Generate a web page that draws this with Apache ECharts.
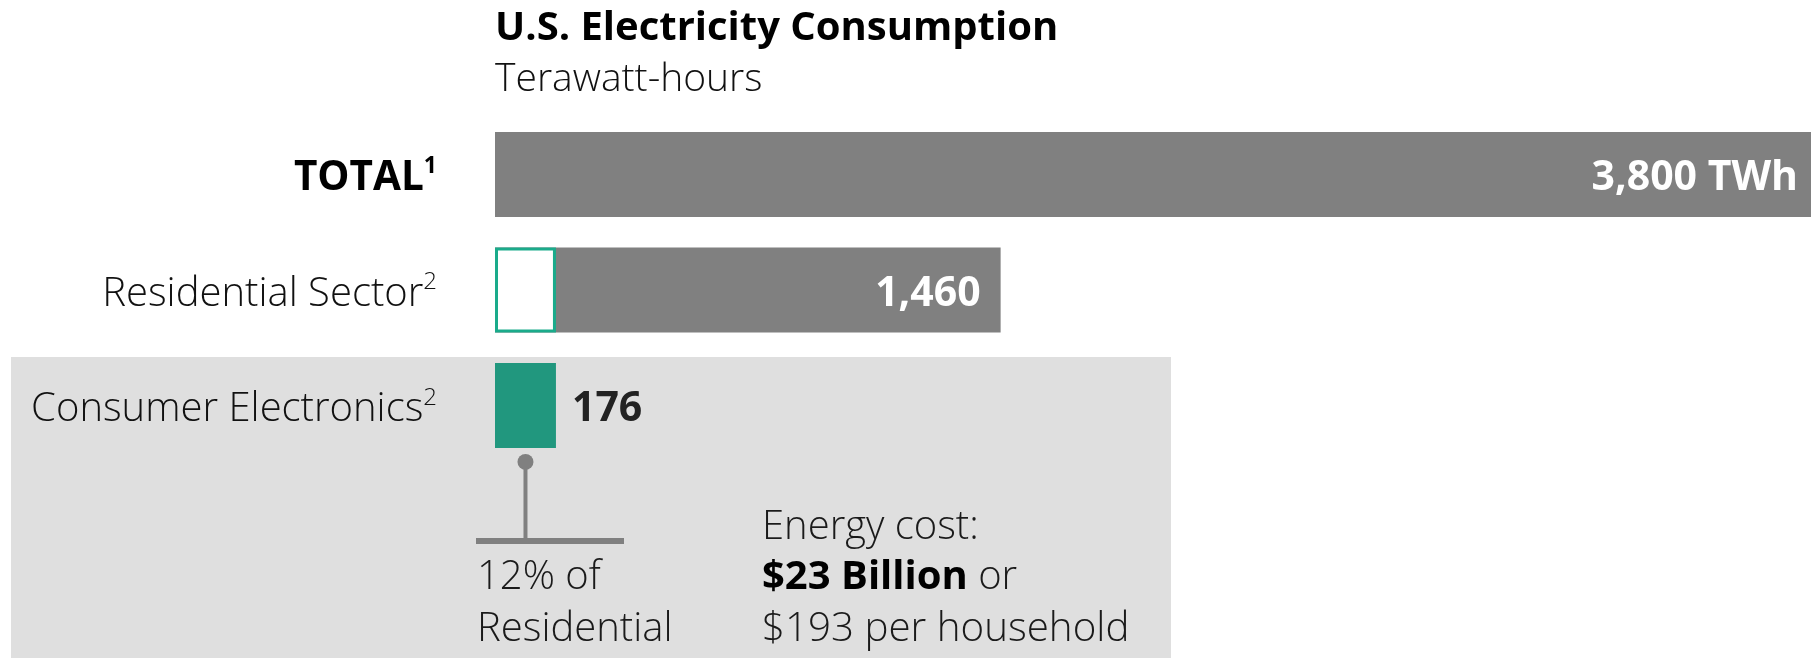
<!DOCTYPE html>
<html>
<head>
<meta charset="utf-8">
<script src="https://cdn.jsdelivr.net/npm/echarts@6/dist/echarts.min.js"></script>
<style>
  html, body { margin: 0; padding: 0; background: #ffffff; }
  #chart { width: 1811px; height: 658px; }
</style>
</head>
<body>
<div id="chart"></div>
<script>
// U.S. electricity consumption, terawatt-hours
const categories = ['TOTAL', 'Residential Sector', 'Consumer Electronics'];
const footnotes = ['1', '2', '2'];
const consumption = [3800, 1460, 176];
const valueLabels = ['3,800 TWh', '1,460', '176'];
// consumer electronics share drawn inside the residential bar
const electronicsInResidential = [null, 176, null];
const costTotal = '$23 Billion';
const costPerHousehold = '$193 per household';

const FONT = '"Open Sans", "Noto Sans", sans-serif';
const GREY = '#808080';
const TEAL = '#21977e';
const TEAL_EDGE = '#1aab8b';
const BAR_H = 85;

const chart = echarts.init(document.getElementById('chart'), null, { renderer: 'canvas' });

const mainData = consumption.map((v, i) => {
  const isElectronics = i === 2;
  return {
    value: v,
    itemStyle: { color: isElectronics ? TEAL : GREY },
    label: {
      show: true,
      formatter: valueLabels[i],
      position: isElectronics ? 'right' : 'insideRight',
      distance: isElectronics ? 16 : (i === 0 ? 13 : 20),
      offset: [0, 4],
      color: isElectronics ? '#222222' : '#ffffff',
      fontFamily: FONT,
      fontWeight: 'bold',
      fontSize: 41
    }
  };
});

const option = {
  animation: false,
  backgroundColor: '#ffffff',
  grid: { left: 495, right: 0, top: 116.7, height: 346.5, containLabel: false },
  xAxis: { type: 'value', min: 0, max: consumption[0], show: false },
  yAxis: {
    type: 'category',
    data: categories,
    inverse: true,
    axisLine: { show: false },
    axisTick: { show: false },
    splitLine: { show: false },
    axisLabel: {
      margin: 58,
      padding: [9, 0, 0, 0],
      formatter: (value, idx) => idx === 0
        ? `{bmain|${value}}{bsup|${footnotes[idx]}}`
        : `{main|${value}}{sup|${footnotes[idx]}}`,
      rich: {
        bmain: { fontFamily: FONT, fontWeight: 'bold', fontSize: 40.5, color: '#000', lineHeight: 48 },
        bsup: { fontFamily: FONT, fontWeight: 'bold', fontSize: 23, color: '#000', verticalAlign: 'top', lineHeight: 25 },
        main: { fontFamily: FONT, fontWeight: 300, fontSize: 40, color: '#111', lineHeight: 48 },
        sup: { fontFamily: FONT, fontWeight: 300, fontSize: 24, color: '#111', verticalAlign: 'top', lineHeight: 25 }
      }
    }
  },
  series: [
    {
      name: 'Consumption',
      type: 'bar',
      barWidth: BAR_H,
      barGap: '-100%',
      data: mainData
    },
    {
      name: 'Consumer electronics share',
      type: 'bar',
      barWidth: BAR_H,
      barGap: '-100%',
      z: 3,
      data: electronicsInResidential,
      itemStyle: { color: '#ffffff', borderColor: TEAL_EDGE, borderWidth: 3 },
      label: { show: false }
    }
  ]
};

chart.setOption(option);

// Annotation anchored to the consumer electronics bar
const eIdx = 2;
const barLeft = chart.convertToPixel({ seriesIndex: 0 }, [0, categories[eIdx]]);
const barRight = chart.convertToPixel({ seriesIndex: 0 }, [consumption[eIdx], categories[eIdx]]);
const cx = (barLeft[0] + barRight[0]) / 2;
const barBottom = barLeft[1] + BAR_H / 2;
const pinY = barBottom + 14;
const baseY = barBottom + 93;
const shareOfResidential = Math.round(consumption[2] / consumption[1] * 100);

const lightText = (text, x, y, size) => ({
  type: 'text', x, y,
  style: { text, fill: '#1a1a1a', font: `300 ${size}px ${FONT}`, verticalAlign: 'middle', align: 'left' }
});

chart.setOption({
  graphic: [
    { type: 'rect', z: -10, zlevel: 0, silent: true,
      shape: { x: 11, y: 357, width: 1160, height: 301 },
      style: { fill: '#dfdfdf' } },
    { type: 'text', x: barLeft[0], y: 29,
      style: { text: 'U.S. Electricity Consumption', fill: '#000', font: `bold 40px ${FONT}`, verticalAlign: 'middle' } },
    { type: 'text', x: barLeft[0], y: 80,
      style: { text: 'Terawatt-hours', fill: '#111', font: `300 39px ${FONT}`, verticalAlign: 'middle' } },
    { type: 'line', z: 10,
      shape: { x1: cx, y1: pinY, x2: cx, y2: baseY },
      style: { stroke: GREY, lineWidth: 4 } },
    { type: 'circle', z: 10,
      shape: { cx, cy: pinY, r: 8 },
      style: { fill: GREY } },
    { type: 'line', z: 10,
      shape: { x1: barLeft[0] - 19, y1: baseY, x2: barLeft[0] + 129, y2: baseY },
      style: { stroke: GREY, lineWidth: 6 } },
    lightText(`${shareOfResidential}% of`, barLeft[0] - 18, 578, 40),
    lightText('Residential', barLeft[0] - 18, 630, 40),
    lightText('Energy cost:', 762, 528, 40),
    { type: 'text', x: 762, y: 578,
      style: {
        text: `{b|${costTotal}}{l| or}`,
        verticalAlign: 'middle',
        rich: {
          b: { font: `bold 40px ${FONT}`, fill: '#000' },
          l: { font: `300 40px ${FONT}`, fill: '#1a1a1a' }
        }
      } },
    lightText(costPerHousehold, 762, 630, 40.3)
  ]
});
</script>
</body>
</html>
